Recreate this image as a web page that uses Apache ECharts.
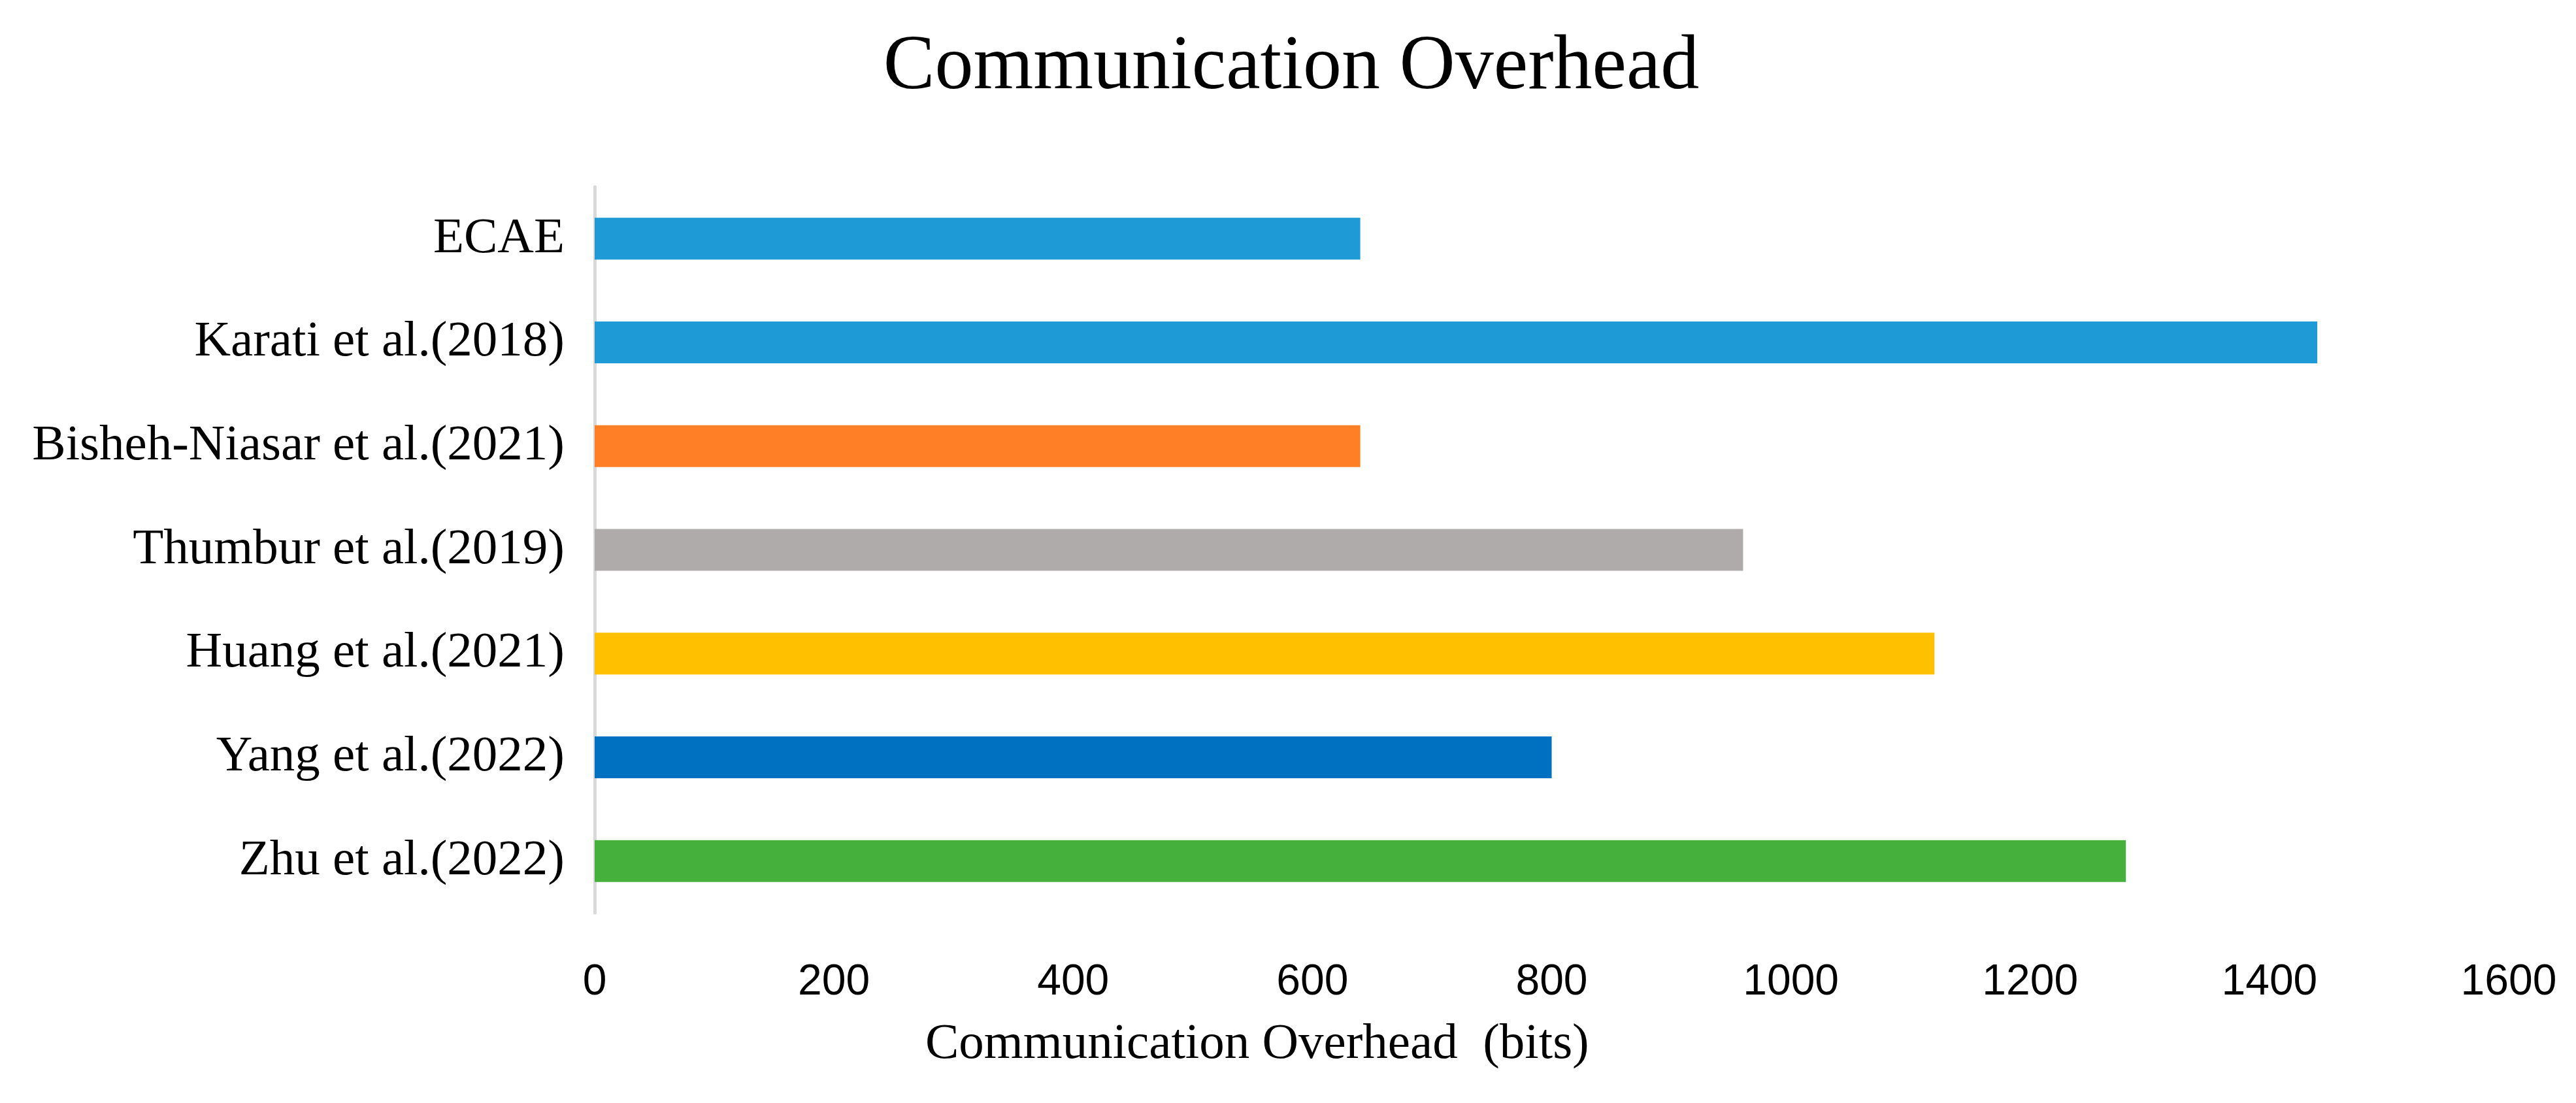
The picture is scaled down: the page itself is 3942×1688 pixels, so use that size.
<!DOCTYPE html>
<html>
<head>
<meta charset="utf-8">
<script src="https://cdn.jsdelivr.net/npm/echarts@6/dist/echarts.min.js"></script>
<style>
html,body{margin:0;padding:0;background:#fff;}
#c{width:3942px;height:1688px;}
</style>
</head>
<body>
<div id="c"></div>
<script>
const categories = ["ECAE","Karati et al.(2018)","Bisheh-Niasar et al.(2021)","Thumbur et al.(2019)","Huang et al.(2021)","Yang et al.(2022)","Zhu et al.(2022)"];
const values = [640, 1440, 640, 960, 1120, 800, 1280];
const xTicks = [0, 200, 400, 600, 800, 1000, 1200, 1400, 1600];
const titleText = "Communication Overhead";
const xAxisTitle = "Communication Overhead  (bits)";

const barColors = ["#1E9BD7","#1E9BD7","#FF7F27","#AFABAB","#FFC000","#0070C0","#46B03C"];

const chart = echarts.init(document.getElementById('c'));
chart.setOption({
  backgroundColor: '#ffffff',
  animation: false,
  title: {
    text: titleText,
    left: 1971, top: 40, textAlign: 'center',
    textStyle: {fontFamily: 'Liberation Serif', fontSize: 118, fontWeight: 'normal', color: '#000'}
  },
  graphic: [{
    type: 'text', left: 1921 - 505, top: 1560,
    style: {text: xAxisTitle, font: '77px "Liberation Serif"', fill: '#000'}
  }],
  grid: {left: 910, right: 103, top: 286, bottom: 291, containLabel: false},
  xAxis: {
    type: 'value', min: xTicks[0], max: xTicks[xTicks.length-1], interval: 200,
    axisLine: {show: false}, axisTick: {show: false}, splitLine: {show: false},
    axisLabel: {margin: 74, fontFamily: 'Liberation Sans', fontSize: 66, color: '#000',
      formatter: v => String(v)}
  },
  yAxis: {
    type: 'category', data: categories, inverse: true,
    axisLine: {show: true, lineStyle: {color: '#D9D9D9', width: 5}},
    axisTick: {show: false},
    axisLabel: {margin: 46, fontFamily: 'Liberation Serif', fontSize: 77, color: '#000'}
  },
  series: [{
    type: 'bar', barWidth: 64,
    data: values.map((v, i) => ({value: v, itemStyle: {color: barColors[i]}}))
  }]
});
</script>
</body>
</html>
